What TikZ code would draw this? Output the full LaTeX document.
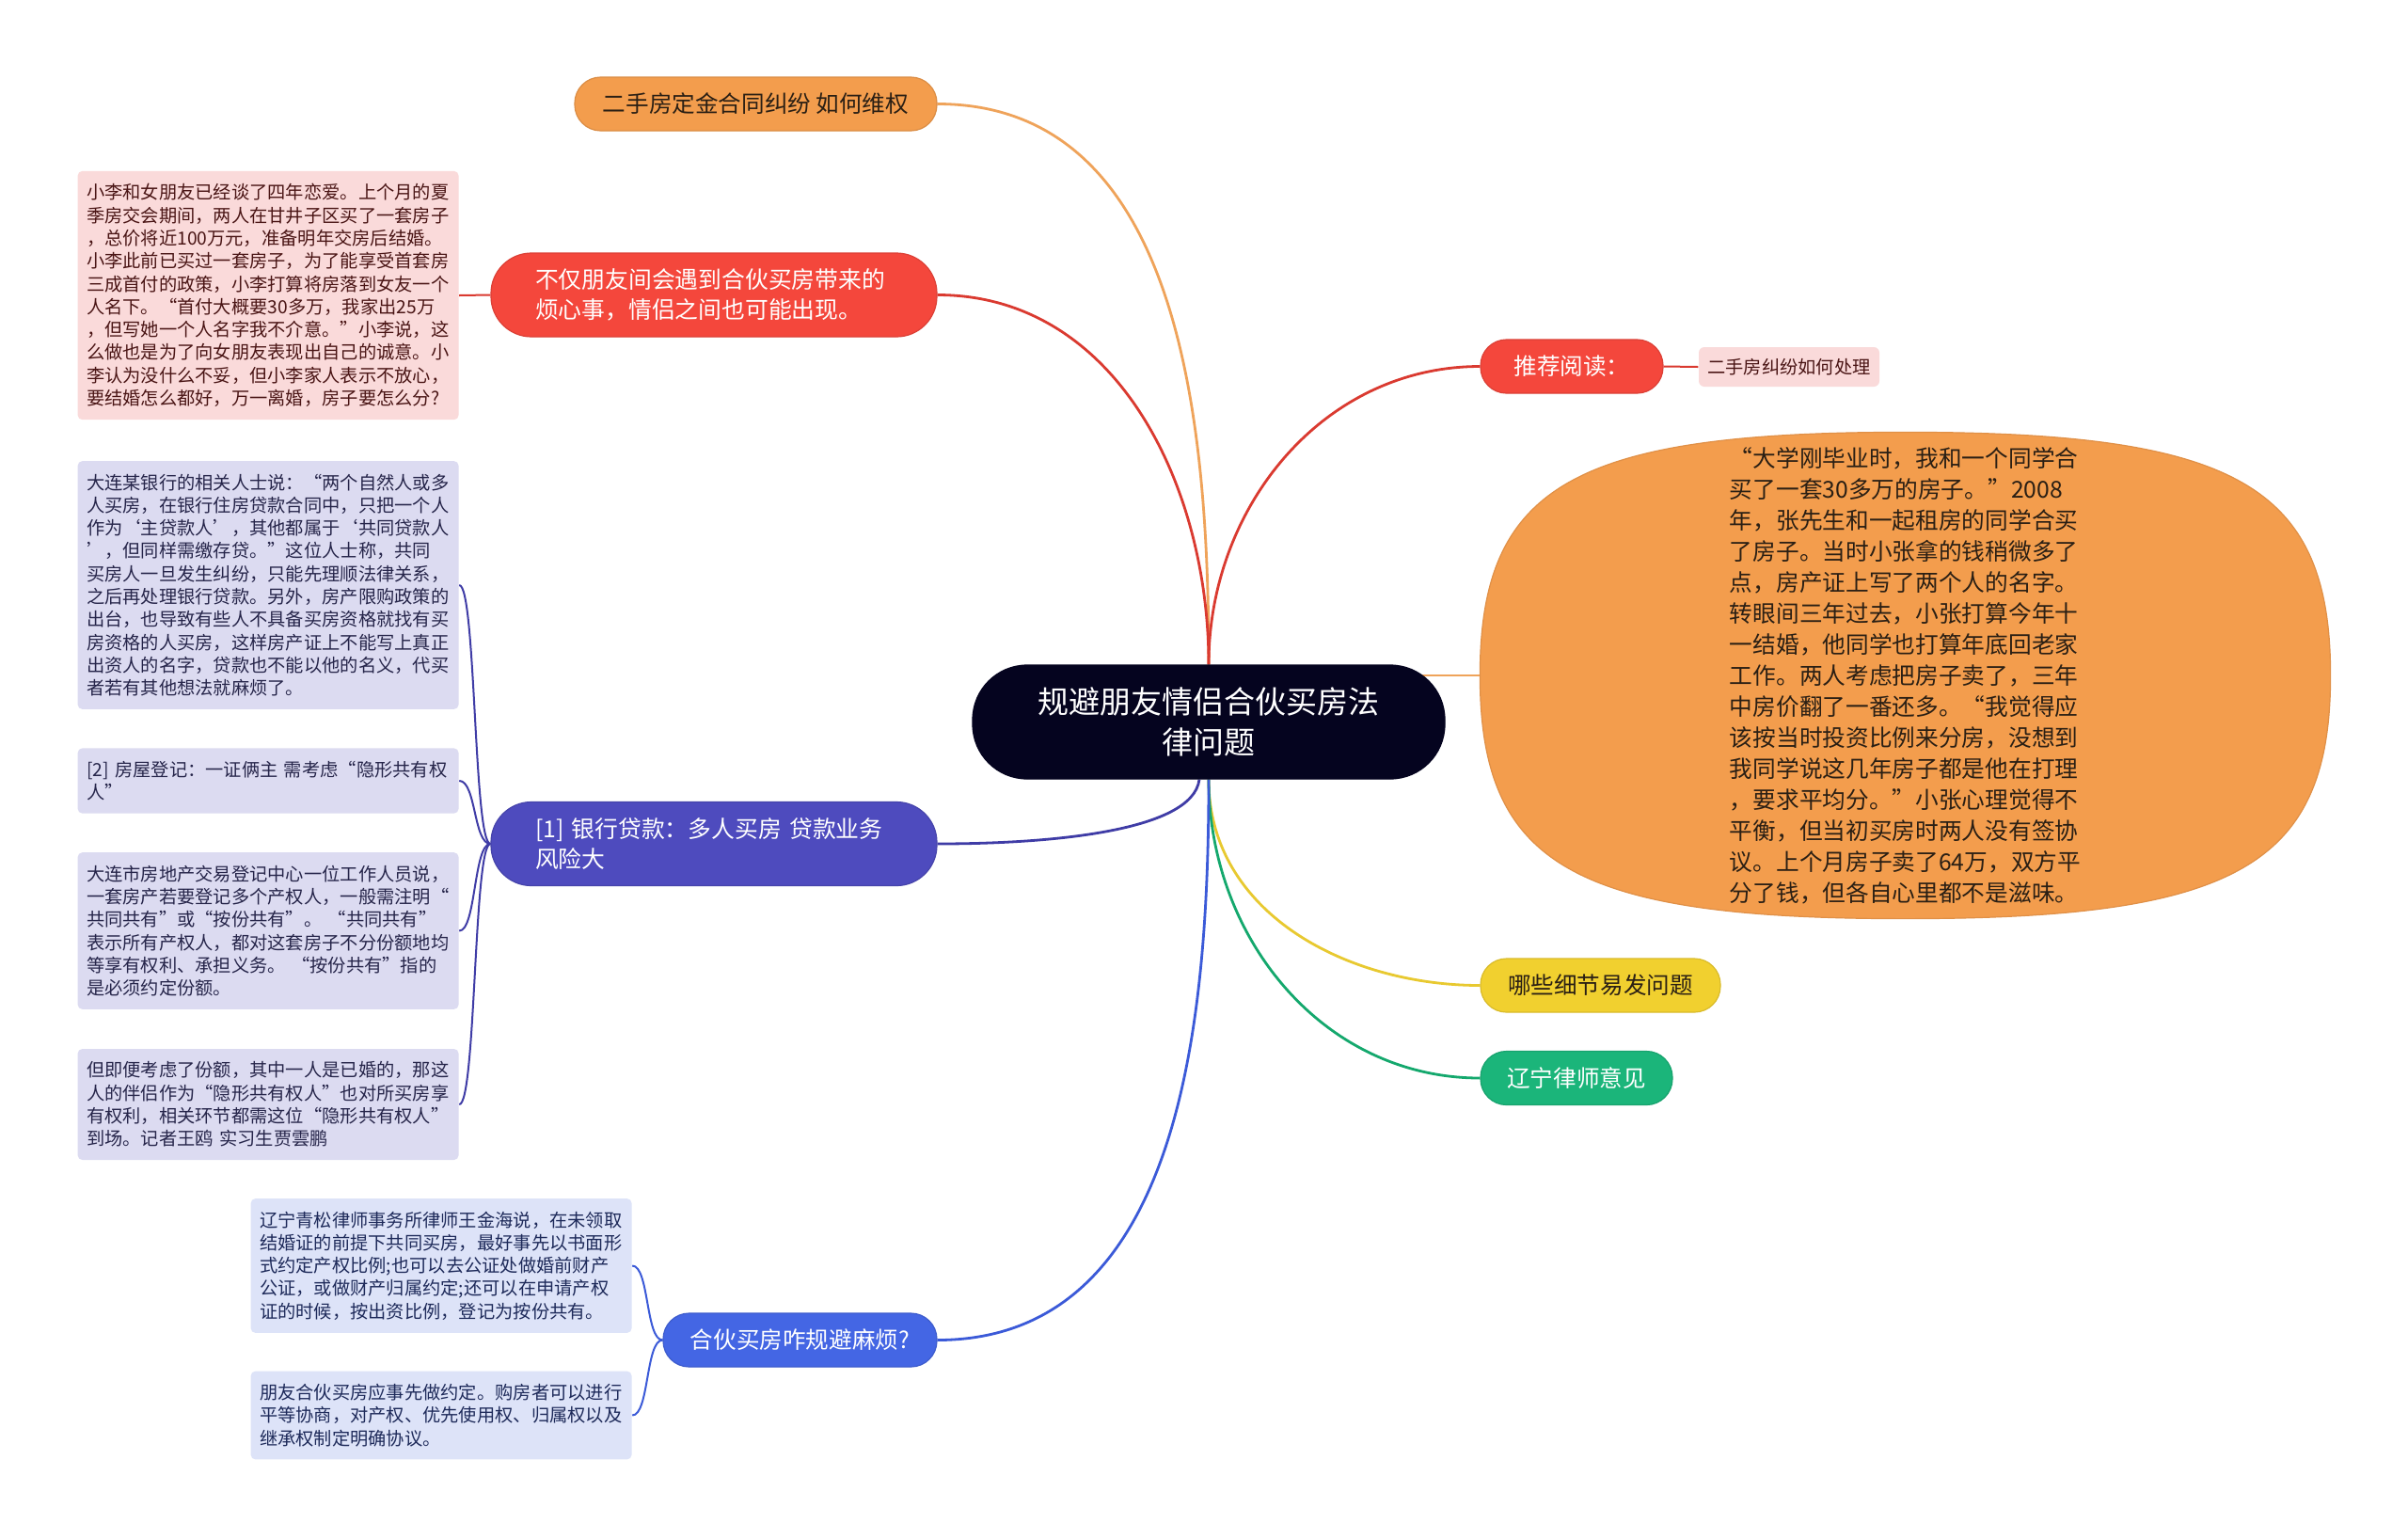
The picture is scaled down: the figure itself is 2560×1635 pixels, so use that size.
\documentclass[tikz,border=0pt]{standalone}
\usepackage{fontspec}
\setmainfont{Noto Sans CJK SC}
\usetikzlibrary{calc,backgrounds}
\definecolor{cOrange}{HTML}{F39D4D}
\definecolor{cOrangeLine}{HTML}{EFA35A}
\definecolor{cRed}{HTML}{F4473C}
\definecolor{cRedLine}{HTML}{DA3A30}
\definecolor{cPurple}{HTML}{4E4BBE}
\definecolor{cPurpleLine}{HTML}{3F3CA6}
\definecolor{cBlue}{HTML}{4466E4}
\definecolor{cBlueLine}{HTML}{3B5AD8}
\definecolor{cYellow}{HTML}{F1D02F}
\definecolor{cYellowLine}{HTML}{E8C930}
\definecolor{cGreen}{HTML}{1BB57A}
\definecolor{cGreenLine}{HTML}{14A86D}
\definecolor{cRoot}{HTML}{05041F}
\definecolor{cPinkF}{HTML}{FADADA}
\definecolor{cPinkT}{HTML}{4A1515}
\definecolor{cPurF}{HTML}{DCDBF1}
\definecolor{cPurT}{HTML}{26254A}
\definecolor{cBluF}{HTML}{DDE3F8}
\definecolor{cBluT}{HTML}{1E2A5A}
\definecolor{cDarkT}{HTML}{2A1F14}
\tikzset{
  base/.style={inner sep=0pt, line width=0.6pt},
  leafbox/.style={base, rounded corners=2.5pt, text width=193pt, inner xsep=4.75pt, inner ysep=6.8pt, align=left, font=\fontsize{9.63}{12.15}\selectfont, anchor=west},
  pinkleaf/.style={leafbox, fill=cPinkF, text=cPinkT},
  purpleleaf/.style={leafbox, fill=cPurF, text=cPurT},
  blueleaf/.style={leafbox, fill=cBluF, text=cBluT},
  pill/.style={base, rounded corners=13.8pt, minimum height=28.5pt, font=\fontsize{12.3}{16.3}\selectfont, align=center},
  bigpill/.style={base, rounded corners=21.5pt, minimum width=237pt, minimum height=44.5pt, text width=190pt, align=left, font=\fontsize{12.4}{16.3}\selectfont, text=white},
  conn/.style={line width=1.4pt},
  subconn/.style={line width=1pt},
}
\begin{document}
\begin{tikzpicture}[x=0.5pt,y=-0.5pt]
\useasboundingbox (0,0) rectangle (2560,1635);

% root
\node[base, fill=cRoot, draw=cRoot, rounded corners=29pt, minimum width=251pt, minimum height=60.5pt,
  align=center, text=white, font=\fontsize{16.5}{21.2}\selectfont] (root) at (1285,767.5)
  {规避朋友情侣合伙买房法\\律问题};

% left branches
\node[pill, fill=cOrange, draw=cOrange!90!black, minimum width=192.5pt, text=cDarkT] (o1) at (803.5,110.5)
  {二手房定金合同纠纷 如何维权};

\node[bigpill, fill=cRed, draw=cRed!90!black] (r1) at (759,313.5)
  {不仅朋友间会遇到合伙买房带来的\\烦心事，情侣之间也可能出现。};

\node[pinkleaf] (p1) at (82,314)
  {小李和女朋友已经谈了四年恋爱。上个月的夏\\
   季房交会期间，两人在甘井子区买了一套房子\\
   ，总价将近100万元，准备明年交房后结婚。\\
   小李此前已买过一套房子，为了能享受首套房\\
   三成首付的政策，小李打算将房落到女友一个\\
   人名下。“首付大概要30多万，我家出25万\\
   ，但写她一个人名字我不介意。”小李说，这\\
   么做也是为了向女朋友表现出自己的诚意。小\\
   李认为没什么不妥，但小李家人表示不放心，\\
   要结婚怎么都好，万一离婚，房子要怎么分?};

\node[bigpill, fill=cPurple, draw=cPurple!90!black] (u1) at (759,897)
  {[1] 银行贷款：多人买房 贷款业务\\风险大};

\node[purpleleaf] (ub1) at (82,622)
  {大连某银行的相关人士说：“两个自然人或多\\
   人买房，在银行住房贷款合同中，只把一个人\\
   作为‘主贷款人’，其他都属于‘共同贷款人\\
   ’，但同样需缴存贷。”这位人士称，共同\\
   买房人一旦发生纠纷，只能先理顺法律关系，\\
   之后再处理银行贷款。另外，房产限购政策的\\
   出台，也导致有些人不具备买房资格就找有买\\
   房资格的人买房，这样房产证上不能写上真正\\
   出资人的名字，贷款也不能以他的名义，代买\\
   者若有其他想法就麻烦了。};

\node[purpleleaf] (ub2) at (82,830)
  {[2] 房屋登记：一证俩主 需考虑“隐形共有权\\
   人”};

\node[purpleleaf] (ub3) at (82,989.5)
  {大连市房地产交易登记中心一位工作人员说，\\
   一套房产若要登记多个产权人，一般需注明“\\
   共同共有”或“按份共有”。 “共同共有”\\
   表示所有产权人，都对这套房子不分份额地均\\
   等享有权利、承担义务。 “按份共有”指的\\
   是必须约定份额。};

\node[purpleleaf] (ub4) at (82,1174)
  {但即便考虑了份额，其中一人是已婚的，那这\\
   人的伴侣作为“隐形共有权人”也对所买房享\\
   有权利，相关环节都需这位“隐形共有权人”\\
   到场。记者王鸥 实习生贾雲鹏};

\node[pill, fill=cBlue, draw=cBlue!90!black, minimum width=145.5pt, text=white] (b1) at (850.5,1424.5)
  {合伙买房咋规避麻烦?};

\node[blueleaf] (bb1) at (266,1345.5)
  {辽宁青松律师事务所律师王金海说，在未领取\\
   结婚证的前提下共同买房，最好事先以书面形\\
   式约定产权比例;也可以去公证处做婚前财产\\
   公证，或做财产归属约定;还可以在申请产权\\
   证的时候，按出资比例，登记为按份共有。};

\node[blueleaf] (bb2) at (266,1504.5)
  {朋友合伙买房应事先做约定。购房者可以进行\\
   平等协商，对产权、优先使用权、归属权以及\\
   继承权制定明确协议。};

% right branches
\node[pill, fill=cRed, draw=cRed!90!black, minimum width=97pt, text=white] (rec) at (1671,389.5)
  {推荐阅读：};

\node[base, fill=cPinkF, rounded corners=3pt, minimum width=96pt, minimum height=21pt,
  text=cPinkT, font=\fontsize{9.63}{12.15}\selectfont] (recb) at (1902,390)
  {二手房纠纷如何处理};

\node[base, minimum width=451.5pt, minimum height=258pt, align=left, text=cDarkT,
  font=\fontsize{12.35}{16.5}\selectfont] (ell) at (2025.5,718)
  {“大学刚毕业时，我和一个同学合\\
   买了一套30多万的房子。”2008\\
   年，张先生和一起租房的同学合买\\
   了房子。当时小张拿的钱稍微多了\\
   点，房产证上写了两个人的名字。\\
   转眼间三年过去，小张打算今年十\\
   一结婚，他同学也打算年底回老家\\
   工作。两人考虑把房子卖了，三年\\
   中房价翻了一番还多。“我觉得应\\
   该按当时投资比例来分房，没想到\\
   我同学说这几年房子都是他在打理\\
   ，要求平均分。”小张心理觉得不\\
   平衡，但当初买房时两人没有签协\\
   议。上个月房子卖了64万，双方平\\
   分了钱，但各自心里都不是滋味。};

\node[pill, fill=cYellow, draw=cYellow!90!black, minimum width=127.5pt, text=cDarkT] (y1) at (1701.5,1047.5)
  {哪些细节易发问题};

\node[pill, fill=cGreen, draw=cGreen!90!black, minimum width=102pt, text=white] (g1) at (1676,1146)
  {辽宁律师意见};

\begin{scope}[on background layer]
  \fill[white] (0,0) rectangle (2560,1635);
  % rounded blob behind the text
  \filldraw[fill=cOrange, draw=cOrange!92!black, line width=0.6pt]
    (ell.west)
    .. controls ($(ell.west)!0.78!(ell.north west)$) and ($(ell.north)!0.78!(ell.north west)$) .. (ell.north)
    .. controls ($(ell.north)!0.78!(ell.north east)$) and ($(ell.east)!0.78!(ell.north east)$) .. (ell.east)
    .. controls ($(ell.east)!0.78!(ell.south east)$) and ($(ell.south)!0.78!(ell.south east)$) .. (ell.south)
    .. controls ($(ell.south)!0.78!(ell.south west)$) and ($(ell.west)!0.78!(ell.south west)$) .. (ell.west)
    -- cycle;
  % main connectors
  \draw[conn, cOrangeLine] (root.north) to[out=90,in=0] (o1.east);
  \draw[conn, cRedLine] (root.north) to[out=90,in=0] (r1.east);
  \draw[conn, cRedLine] (root.north) to[out=90,in=180] (rec.west);
  \draw[conn, cOrangeLine] (root.center |- ell.west) -- (ell.west);
  \draw[conn, cPurpleLine] ([xshift=-5pt]root.south) .. controls (1268,885) and (1110,897) .. (u1.east);
  \draw[conn, cYellowLine] (root.south) to[out=270,in=180] (y1.west);
  \draw[conn, cGreenLine] (root.south) to[out=270,in=180] (g1.west);
  \draw[conn, cBlueLine] (root.south) to[out=270,in=0] (b1.east);
  % sub connectors
  \draw[subconn, cRedLine] (r1.west) -- (p1.east);
  \draw[subconn, cRedLine] (rec.east) -- (recb.west);
  \foreach \t in {ub1,ub2,ub3,ub4}
    \draw[subconn, cPurpleLine] (u1.west) .. controls +(-18,0) and +(18,0) .. (\t.east);
  \foreach \t in {bb1,bb2}
    \draw[subconn, cBlueLine] (b1.west) .. controls +(-18,0) and +(18,0) .. (\t.east);
\end{scope}
\end{tikzpicture}
\end{document}
